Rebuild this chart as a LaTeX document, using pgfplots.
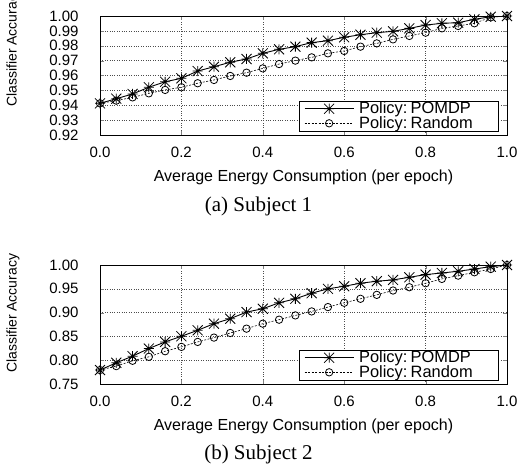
\documentclass[border=0pt]{standalone}
\usepackage{fontspec}
\setmainfont{Liberation Sans}
\newfontfamily\capfont{Liberation Serif}
\usepackage{pgfplots}
\pgfplotsset{compat=1.18}
\frenchspacing

\newcommand{\legfont}{\fontsize{16.4}{17}\selectfont}

% gnuplot style star: + and x on top of each other
\pgfdeclareplotmark{gstar}{%
  \pgfpathmoveto{\pgfqpoint{-\pgfplotmarksize}{0pt}}%
  \pgfpathlineto{\pgfqpoint{\pgfplotmarksize}{0pt}}%
  \pgfpathmoveto{\pgfqpoint{0pt}{-\pgfplotmarksize}}%
  \pgfpathlineto{\pgfqpoint{0pt}{\pgfplotmarksize}}%
  \pgfpathmoveto{\pgfqpoint{-\pgfplotmarksize}{-\pgfplotmarksize}}%
  \pgfpathlineto{\pgfqpoint{\pgfplotmarksize}{\pgfplotmarksize}}%
  \pgfpathmoveto{\pgfqpoint{-\pgfplotmarksize}{\pgfplotmarksize}}%
  \pgfpathlineto{\pgfqpoint{\pgfplotmarksize}{-\pgfplotmarksize}}%
  \pgfusepathqstroke}

\pgfplotsset{
  energy/.style={
    scale only axis,
    width=407pt, height=119pt,
    anchor=south west,
    xmin=0, xmax=1,
    xtick={0,0.2,...,1.0},
    xticklabel style={/pgf/number format/fixed, /pgf/number format/precision=1,
      /pgf/number format/fixed zerofill, yshift=-8pt},
    yticklabel style={/pgf/number format/fixed, /pgf/number format/precision=2,
      /pgf/number format/fixed zerofill, xshift=-18pt},
    /pgf/number format/assume math mode=true,
    tick label style={font=\fontsize{15}{16}\selectfont},
    xlabel style={font=\fontsize{16}{18}\selectfont},
    ylabel style={font=\fontsize{14}{16}\selectfont, inner sep=0pt},
    tick align=inside, major tick length=4pt,
    axis line style={line width=1pt},
    grid=major,
    major grid style={dotted, black!70, line width=0.5pt},
    xlabel={Average Energy Consumption (per epoch)},
    xlabel style={at={(axis description cs:0.5,0)}, anchor=center, yshift=-42pt},
    ylabel={Classifier Accuracy},
    legend style={at={(1,0)}, anchor=south east, xshift=-8.5pt, yshift=3.5pt,
      draw=black, line width=0.8pt, fill=white,
      inner xsep=5pt, inner ysep=0.5pt, row sep=0pt,
      nodes={inner xsep=5pt, inner ysep=0.6pt}},
    legend cell align=left,
    every axis legend/.append style={
      /tikz/every even column/.style={text width=129pt, align=left}},
    legend image code/.code={%
      \draw[mark repeat=2, mark phase=2, #1]
        plot coordinates {(0pt,0pt) (24.5pt,0pt) (49pt,0pt)};},
  },
  pomdp/.style={black, line width=0.9pt, mark=gstar, mark size=5pt,
    mark options={solid, line width=0.8pt}},
  randp/.style={black, line width=0.6pt, dash pattern=on 2pt off 1.5pt,
    mark=o, mark size=3.7pt, mark options={solid, line width=0.8pt}},
}

\begin{document}
\begin{tikzpicture}
\useasboundingbox (0,0) rectangle (517pt,467pt);

\begin{axis}[energy, at={(100pt,332pt)},
  ymin=0.92, ymax=1.0, ytick={0.92,0.93,...,1.001},
  ylabel style={at={(axis description cs:-0.214,0.235)}, anchor=west}]
\addplot[pomdp] coordinates {
  (0.00,0.9413) (0.04,0.9444) (0.08,0.9476) (0.12,0.9521) (0.16,0.9558)
  (0.20,0.9581) (0.24,0.9630) (0.28,0.9659) (0.32,0.9689) (0.36,0.9711)
  (0.40,0.9749) (0.44,0.9776) (0.48,0.9794) (0.52,0.9821) (0.56,0.9834)
  (0.60,0.9857) (0.64,0.9874) (0.68,0.9888) (0.72,0.9897) (0.76,0.9917)
  (0.80,0.9939) (0.84,0.9951) (0.88,0.9955) (0.92,0.9978) (0.96,0.9995)
  (1.00,1.0000)};
\addlegendentry{\legfont Policy: POMDP}
\addplot[randp] coordinates {
  (0.00,0.9413) (0.04,0.9431) (0.08,0.9453) (0.12,0.9480) (0.16,0.9503)
  (0.20,0.9521) (0.24,0.9548) (0.28,0.9570) (0.32,0.9597) (0.36,0.9619)
  (0.40,0.9648) (0.44,0.9677) (0.48,0.9700) (0.52,0.9722) (0.56,0.9749)
  (0.60,0.9765) (0.64,0.9794) (0.68,0.9816) (0.72,0.9843) (0.76,0.9866)
  (0.80,0.9888) (0.84,0.9917) (0.88,0.9933) (0.92,0.9951) (0.96,0.9991)
  (1.00,1.0000)};
\addlegendentry{\legfont Policy: Random}
\end{axis}

\node[font=\capfont\fontsize{21}{23}\selectfont] at (258.5pt,260.5pt) {(a)\ Subject\ 1};

\begin{axis}[energy, at={(100pt,83pt)},
  ymin=0.75, ymax=1.0, ytick={0.75,0.80,...,1.001},
  ylabel style={at={(axis description cs:-0.214,0.092)}, anchor=west}]
\addplot[pomdp] coordinates {
  (0.00,0.7793) (0.04,0.7946) (0.08,0.8085) (0.12,0.8245) (0.16,0.8384)
  (0.20,0.8503) (0.24,0.8628) (0.28,0.8767) (0.32,0.8872) (0.36,0.9011)
  (0.40,0.9081) (0.44,0.9206) (0.48,0.9290) (0.52,0.9408) (0.56,0.9499)
  (0.60,0.9554) (0.64,0.9617) (0.68,0.9659) (0.72,0.9687) (0.76,0.9742)
  (0.80,0.9798) (0.84,0.9833) (0.88,0.9868) (0.92,0.9916) (0.96,0.9965)
  (1.00,1.0000)};
\addlegendentry{\legfont Policy: POMDP}
\addplot[randp] coordinates {
  (0.00,0.7793) (0.04,0.7876) (0.08,0.7988) (0.12,0.8071) (0.16,0.8189)
  (0.20,0.8280) (0.24,0.8384) (0.28,0.8475) (0.32,0.8572) (0.36,0.8663)
  (0.40,0.8767) (0.44,0.8851) (0.48,0.8941) (0.52,0.9025) (0.56,0.9116)
  (0.60,0.9206) (0.64,0.9290) (0.68,0.9373) (0.72,0.9464) (0.76,0.9533)
  (0.80,0.9617) (0.84,0.9708) (0.88,0.9777) (0.92,0.9847) (0.96,0.9916)
  (1.00,1.0000)};
\addlegendentry{\legfont Policy: Random}
\end{axis}

\node[font=\capfont\fontsize{21}{23}\selectfont] at (258.5pt,13pt) {(b)\ Subject\ 2};
\end{tikzpicture}
\end{document}
